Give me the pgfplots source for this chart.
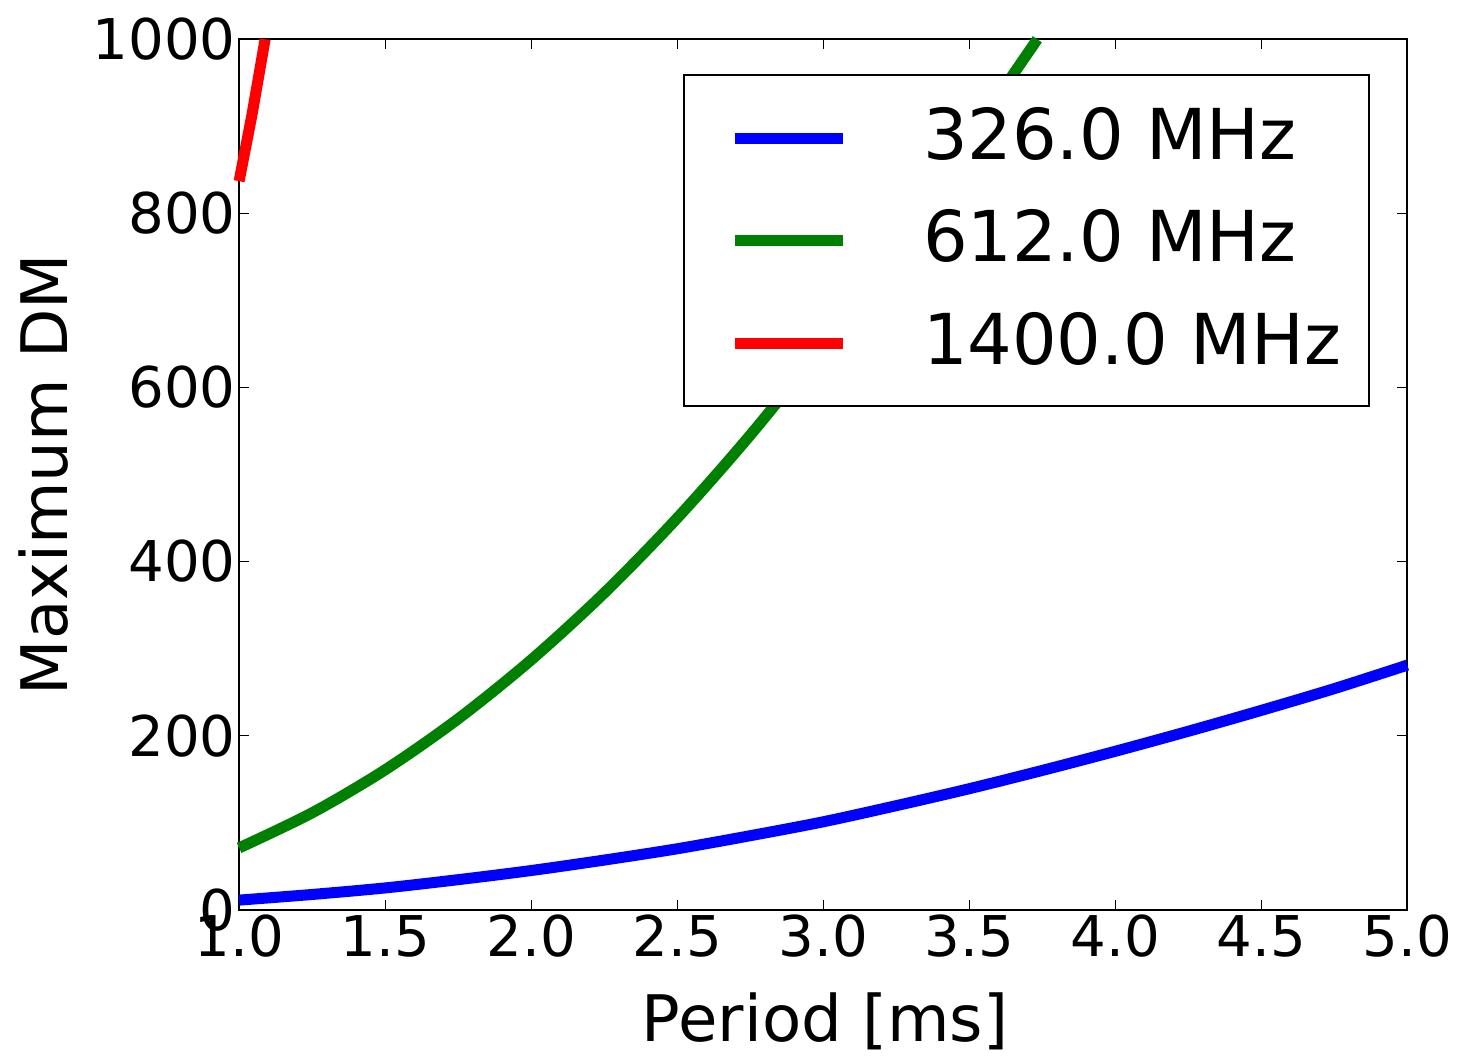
\documentclass[border=0pt]{standalone}
\usepackage{fontspec}
\setmainfont{DejaVu Sans}
\usepackage{xcolor}
\usepackage{pgfplots}
\pgfplotsset{compat=1.18}
\definecolor{mblue}{rgb}{0,0,1}
\definecolor{mgreen}{rgb}{0,0.5,0}
\definecolor{mred}{rgb}{1,0,0}
\begin{document}
\begin{tikzpicture}
\begin{axis}[
  scale only axis, width=582.5pt, height=434pt,
  xmin=1, xmax=5, ymin=0, ymax=1000,
  clip=false,
  axis line style={line width=1pt},
  xtick={1,1.5,...,5}, ytick={0,200,...,1000},
  tick style={line width=0.6pt, black},
  major tick length=5pt,
  tick align=inside,
  xticklabel style={/pgf/number format/.cd, fixed, fixed zerofill, precision=1, /tikz/.cd},
  /pgf/number format/assume math mode=true,
  ticklabel style={font=\fontsize{28}{32}\selectfont},
  xticklabel style={inner sep=0pt, anchor=north, yshift=-2.5pt},
  yticklabel style={inner sep=0pt, anchor=east, xshift=-1.5pt},
  scaled y ticks=false,
  /pgf/number format/1000 sep={},
  label style={font=\fontsize{32}{36}\selectfont},
  xlabel={Period [ms]},
  ylabel={Maximum DM},
  xlabel style={at={(axis description cs:0.5017,-0.151)}, anchor=base},
  ylabel style={at={(axis description cs:-0.1674,0.5)}, anchor=center},
  legend style={at={(axis description cs:1,1)}, anchor=north east,
    xshift=-18.5pt, yshift=-17.5pt, draw=black, line width=1pt,
    font=\fontsize{35}{42}\selectfont,
    inner xsep=14pt, inner ysep=16pt, row sep=20pt, column sep=37pt,
    nodes={inner sep=0pt, text height=26pt, text depth=5pt}},
  legend cell align=left,
  legend image code/.code={
    \path (0pt,0pt);
    \draw[#1] (8.5pt,0pt) -- (62.5pt,0pt);
  },
]
\addplot[mblue, line width=5.5pt, smooth] coordinates {
  (1.00,11) (1.25,17.5) (1.50,25) (1.75,34.5) (2.00,45) (2.25,57)
  (2.50,70) (2.75,85) (3.00,101) (3.25,119.5) (3.50,139) (3.75,160)
  (4.00,182) (4.25,205) (4.50,229) (4.75,254) (5.00,281)
};
\addlegendentry{326.0 MHz}
\addplot[mgreen, line width=5.5pt, smooth] coordinates {
  (1.00,71) (1.25,111.3) (1.50,160.7) (1.75,219.3) (2.00,287) (2.25,363.8)
  (2.50,449.9) (2.75,545.2) (3.00,649.6) (3.25,763.3) (3.50,886.2) (3.733,1000)
};
\addlegendentry{612.0 MHz}
\addplot[mred, line width=5.5pt] coordinates {
  (1.000,837) (1.045,915) (1.089,1000)
};
\addlegendentry{1400.0 MHz}
\end{axis}
\path ([shift={(-6pt,9pt)}]current bounding box.north west)
      ([shift={(3pt,0pt)}]current bounding box.south east);
\end{tikzpicture}
\end{document}
